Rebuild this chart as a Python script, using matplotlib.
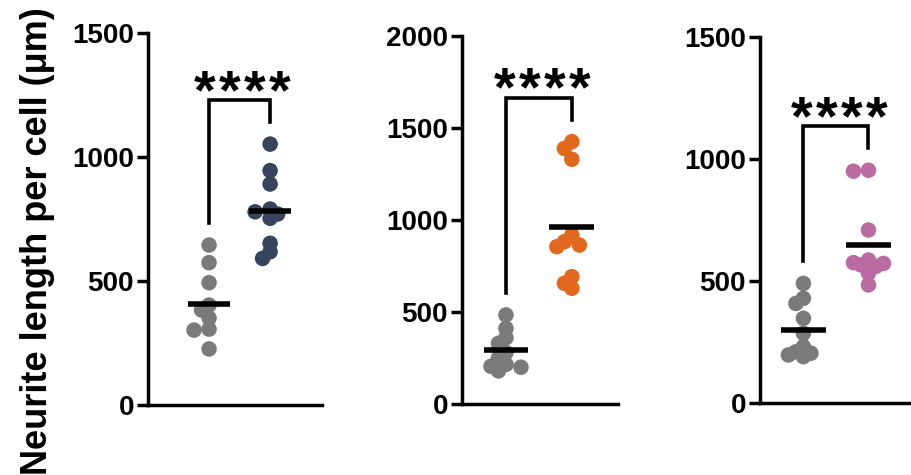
import numpy as np
import matplotlib
matplotlib.use("Agg")
import matplotlib.pyplot as plt

plt.rcParams['font.family'] = ['Liberation Sans', 'DejaVu Sans']
plt.rcParams['font.weight'] = 'bold'

# neurite length per cell (um), control vs treated, three experiments
ctrl_a = [645, 574, 493, 403, 383, 351, 306, 302, 226]
treat_a = [1052, 945, 891, 790, 779, 770, 753, 652, 618, 591]
ctrl_b = [484, 411, 360, 330, 280, 250, 215, 205, 200, 180]
treat_b = [1426, 1389, 1330, 918, 882, 864, 855, 692, 656, 629]
ctrl_c = [490, 429, 408, 347, 286, 231, 210, 204, 197, 190]
treat_c = [954, 950, 709, 586, 575, 572, 566, 560, 532, 484]

ymax = [1500, 2000, 1500]
yticks = [[0, 500, 1000, 1500], [0, 500, 1000, 1500, 2000], [0, 500, 1000, 1500]]
signif = ['****', '****', '****']

gray = '#7a7a7a'
colors = ['#37445e', '#e0691f', '#b96ba2']

W, H = 912, 475
fig = plt.figure(figsize=(W / 100, H / 100), dpi=100)

# axes boxes in pixels: left, bottom(from top), top(from top), right
boxes = [(148, 405, 33, 322), (462, 404, 36, 618), (760, 403, 37, 914)]
xlims = [(0, 2.85), (0.333, 2.7), (0.333, 2.7)]


def swarm(vals, px_per_y, px_per_x, diam=15.0, overlap=0.55):
    # simple beeswarm: place points in value order, shift sideways on collision
    order = np.argsort(vals)[::-1]
    placed = []
    xs = np.zeros(len(vals))
    step = diam * 0.5
    for i in order:
        y = vals[i] * px_per_y
        best, best_d = 0.0, -1
        for k in [0, -1, 1, -2, 2]:
            x = k * step
            d = min([np.hypot(x - px, y - py) for px, py in placed] or [1e9])
            if d >= diam * overlap:
                best = x
                break
            if d > best_d:
                best, best_d = x, d
        placed.append((best, y))
        xs[i] = best / px_per_x
    return xs


groups = [(ctrl_a, treat_a), (ctrl_b, treat_b), (ctrl_c, treat_c)]

for p, ((ctrl, treat), box, xl) in enumerate(zip(groups, boxes, xlims)):
    l, b, t, r = box
    ax = fig.add_axes([l / W, 1 - b / H, (r - l) / W, (b - t) / H])
    ax.set_ylim(0, ymax[p])
    ax.set_xlim(*xl)
    px_y = (b - t) / ymax[p]
    px_x = (r - l) / (xl[1] - xl[0])

    for xpos, vals, c in [(1, ctrl, gray), (2, treat, colors[p])]:
        vals = np.array(vals, float)
        xs = xpos + swarm(vals, px_y, px_x)
        ax.scatter(xs, vals, s=125, color=c, edgecolors='none', zorder=2, clip_on=False)
        m = vals.mean()
        ax.plot([xpos - 0.34, xpos + 0.34], [m, m], color='black', lw=4, zorder=3,
                solid_capstyle='butt')

    # significance bracket
    gap = 22 / px_y
    yl = max(ctrl) + gap
    yr = max(treat) + gap
    ytop = yr + gap
    ax.plot([1, 1, 2, 2], [yl, ytop, ytop, yr], color='black', lw=2.6, zorder=3,
            solid_joinstyle='miter', clip_on=False)
    n = len(signif[p])
    for k, ch in enumerate(signif[p]):
        xk = 1.55 + (k - (n - 1) / 2) * 25 / px_x
        ax.text(xk, ytop - 8 / px_y, ch, ha='center', va='baseline',
                fontsize=40, fontweight='bold')

    for s in ['top', 'right']:
        ax.spines[s].set_visible(False)
    for s in ['left', 'bottom']:
        ax.spines[s].set_linewidth(2.5)
    ax.set_yticks(yticks[p])
    ax.set_xticks([])
    ax.tick_params(axis='y', length=8, width=2.5, pad=2, labelsize=20)
    for lab in ax.get_yticklabels():
        lab.set_fontweight('bold')

fig.text(38 / W, 1 - 241 / H, 'Neurite length per cell (μm)', rotation=90,
         ha='center', va='center', fontsize=26, fontweight='bold')

fig.savefig('out.png', dpi=100)
